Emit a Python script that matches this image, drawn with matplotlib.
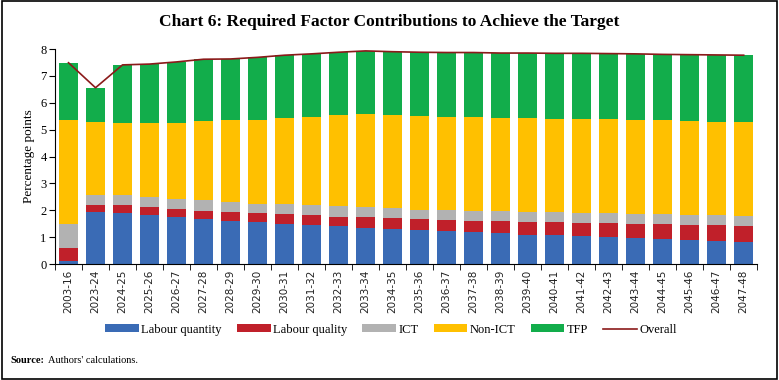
import matplotlib.pyplot as plt
from matplotlib.patches import Rectangle
import numpy as np

periods = ['2003-16', '2023-24', '2024-25', '2025-26', '2026-27', '2027-28', '2028-29',
           '2029-30', '2030-31', '2031-32', '2032-33', '2033-34', '2034-35', '2035-36',
           '2036-37', '2037-38', '2038-39', '2039-40', '2040-41', '2041-42', '2042-43',
           '2043-44', '2044-45', '2045-46', '2046-47', '2047-48']

labour_quantity = [0.11, 1.92, 1.89, 1.81, 1.74, 1.67, 1.61, 1.56, 1.51, 1.46, 1.41, 1.36, 1.30,
                   1.25, 1.22, 1.18, 1.14, 1.10, 1.07, 1.04, 1.02, 0.98, 0.94, 0.89, 0.86, 0.82]
labour_quality = [0.49, 0.29, 0.31, 0.32, 0.32, 0.32, 0.31, 0.34, 0.35, 0.36, 0.36, 0.38, 0.40,
                  0.42, 0.42, 0.43, 0.46, 0.48, 0.49, 0.50, 0.51, 0.53, 0.55, 0.57, 0.59, 0.61]
ict = [0.91, 0.37, 0.36, 0.35, 0.35, 0.39, 0.39, 0.35, 0.37, 0.36, 0.38, 0.37, 0.37,
       0.36, 0.37, 0.38, 0.36, 0.37, 0.38, 0.37, 0.37, 0.36, 0.37, 0.38, 0.36, 0.36]
non_ict = [3.85, 2.69, 2.68, 2.76, 2.84, 2.93, 3.04, 3.12, 3.19, 3.29, 3.38, 3.47, 3.46,
           3.48, 3.47, 3.47, 3.49, 3.47, 3.47, 3.49, 3.48, 3.49, 3.49, 3.48, 3.49, 3.48]
tfp = [2.13, 1.29, 2.17, 2.20, 2.27, 2.31, 2.28, 2.32, 2.35, 2.35, 2.35, 2.35, 2.37,
       2.37, 2.39, 2.41, 2.40, 2.43, 2.43, 2.44, 2.45, 2.46, 2.45, 2.47, 2.48, 2.50]
overall = [7.49, 6.56, 7.41, 7.44, 7.52, 7.62, 7.63, 7.69, 7.77, 7.82, 7.88, 7.93, 7.90,
           7.88, 7.87, 7.87, 7.85, 7.85, 7.84, 7.84, 7.83, 7.82, 7.80, 7.79, 7.78, 7.77]

series = [('Labour quantity', labour_quantity, '#3A6BB5'),
          ('Labour quality', labour_quality, '#C0202A'),
          ('ICT', ict, '#B2B2B2'),
          ('Non-ICT', non_ict, '#FFC000'),
          ('TFP', tfp, '#12AD4B')]

serif = 'Liberation Serif'

fig = plt.figure(figsize=(7.79, 3.80), dpi=100)
ax = fig.add_axes([0.0706, 0.305, 0.9014, 0.566])

x = np.arange(len(periods))
bottom = np.zeros(len(periods))
handles = []
for name, vals, col in series:
    h = ax.bar(x, vals, width=0.7, bottom=bottom, color=col, label=name, zorder=2)
    handles.append(h)
    bottom += np.array(vals)
line, = ax.plot(x, overall, color='#8B1A1A', lw=1.2, label='Overall', zorder=3)
handles.append(line)

ax.set_xlim(-0.5, len(periods) - 0.5)
ax.set_ylim(0, 8)
ax.set_yticks(range(0, 9))
ax.tick_params(axis='y', labelsize=9, length=4, pad=2)
for t in ax.get_yticklabels():
    t.set_fontfamily(serif)
ax.set_ylabel('Percentage points', fontfamily=serif, fontsize=9.5, labelpad=4)

ax.set_xticks(x)
ax.set_xticklabels(periods, rotation=90, fontsize=7.5, color='#222222')
ax.set_xticks(np.arange(-0.5, len(periods)), minor=True)
ax.tick_params(axis='x', which='major', length=0, pad=4)
ax.tick_params(axis='x', which='minor', length=4)

for s in ['top', 'right']:
    ax.spines[s].set_visible(False)

fig.legend(handles=handles, labels=[h.get_label() for h in handles],
           loc='center', bbox_to_anchor=(0.502, 0.132), ncol=6, frameon=False,
           prop={'family': serif, 'size': 9}, handlelength=2.7, handleheight=0.6,
           columnspacing=1.2, handletextpad=0.2)

fig.text(0.5, 0.942, 'Chart 6: Required Factor Contributions to Achieve the Target',
         ha='center', va='center', fontfamily=serif, fontsize=12.5, fontweight='bold')
fig.text(0.014, 0.045, 'Source:', fontfamily=serif, fontsize=7.5, fontweight='bold')
fig.text(0.062, 0.045, "Authors' calculations.", fontfamily=serif, fontsize=7.5)

fig.patches.append(Rectangle((0.002, 0.003), 0.995, 0.994, transform=fig.transFigure,
                             fill=False, edgecolor='black', lw=1.2))

fig.savefig('out.png', dpi=100)
